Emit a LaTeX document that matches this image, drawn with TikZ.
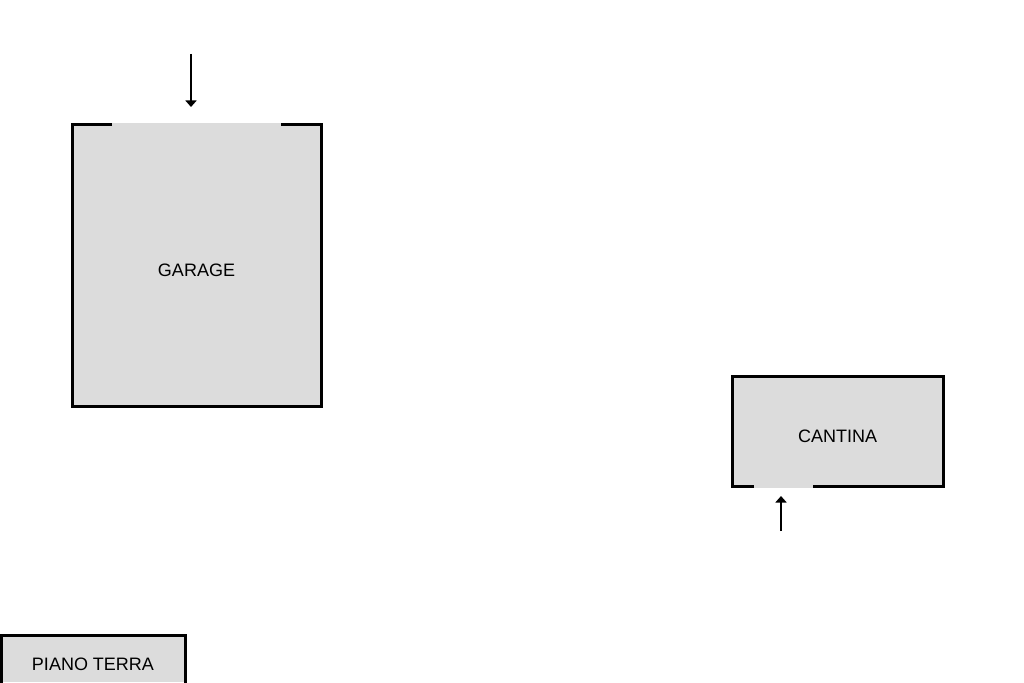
\documentclass[tikz,border=0pt]{standalone}
\usepackage{fontspec}
\setmainfont{Liberation Sans}
\usetikzlibrary{arrows.meta}
\definecolor{roomgray}{HTML}{DCDCDC}
\tikzset{
  roomfill/.style={fill=roomgray,draw=none},
  wall/.style={draw=black,line width=3pt,line cap=butt,line join=miter},
  doorarrow/.style={draw=black,line width=1.6pt,-{Triangle[length=6.5pt,width=11pt]}},
  roomlabel/.style={font=\fontsize{18}{20}\selectfont,text=black,inner sep=0pt,anchor=center}
}
\begin{document}
\begin{tikzpicture}[x=1pt,y=-1pt]
\useasboundingbox (0,0) rectangle (1024,682);
% GARAGE
\fill[roomfill] (72.5,123) rectangle (321.5,406.5);
\draw[wall] (112,124.5) -- (72.5,124.5) -- (72.5,406.5) -- (321.5,406.5) -- (321.5,124.5) -- (281,124.5);
\node[roomlabel] (garage) at (196.5,270.5) {GARAGE};
\coordinate (garageTail) at (191,54);
\coordinate (garageTip) at (191,107);
\draw[doorarrow] (garageTail) -- (garageTip);
% CANTINA
\fill[roomfill] (732.5,376.5) rectangle (943.5,488);
\draw[wall] (754,486.5) -- (732.5,486.5) -- (732.5,376.5) -- (943.5,376.5) -- (943.5,486.5) -- (813,486.5);
\node[roomlabel] (cantina) at (837.5,436.5) {CANTINA};
\coordinate (cantinaTail) at (781,531);
\coordinate (cantinaTip) at (781,496);
\draw[doorarrow] (cantinaTail) -- (cantinaTip);
% PIANO TERRA
\fill[roomfill] (1.5,635.5) rectangle (185.5,682);
\draw[wall] (1.5,690) -- (1.5,635.5) -- (185.5,635.5) -- (185.5,690);
\node[roomlabel] (piano) at (93,664.5) {PIANO TERRA};
\end{tikzpicture}
\end{document}
